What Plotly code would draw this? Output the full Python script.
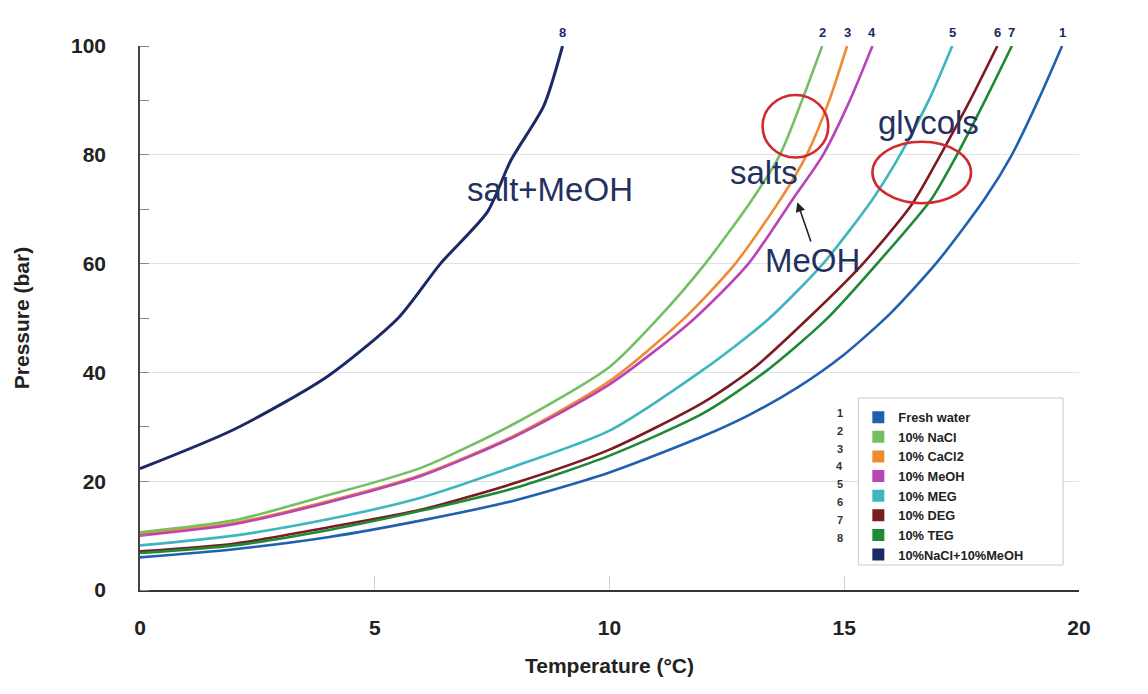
import plotly.graph_objects as go

# ---------------- data ----------------
series_ids = ["1", "2", "3", "4", "5", "6", "7", "8"]
series_names = ["Fresh water", "10% NaCl", "10% CaCl2", "10% MeOH",
                "10% MEG", "10% DEG", "10% TEG", "10%NaCl+10%MeOH"]
series_colors = ["#2160b0", "#72c063", "#f08a30", "#b844b8",
                 "#3db6bf", "#7d1a22", "#1f8a35", "#1c2966"]

t_fresh = [0, 2, 4, 6, 8, 10, 12, 13, 14, 15, 16, 17, 18, 18.57, 19.13, 19.64]
p_fresh = [6.0, 7.5, 9.7, 12.8, 16.5, 21.6, 28.3, 32.3, 37.2, 43.3, 51, 60.5, 72, 80, 90, 100]

t_nacl = [0, 2, 4, 6, 8, 10, 11.0, 12.04, 13.04, 13.63, 14.1, 14.53]
p_nacl = [10.6, 12.8, 17.4, 22.5, 30.7, 41.0, 49.6, 60, 71.8, 80, 90, 100]

t_cacl2 = [0, 2, 4, 6, 8, 10, 11.55, 12.68, 13.64, 14.2, 14.68, 15.06]
p_cacl2 = [10.2, 12.3, 16.3, 21.2, 28.5, 38.4, 49.6, 60, 71.8, 80, 90, 100]

t_meoh = [0, 2, 4, 6, 8, 10, 11.77, 12.96, 13.9, 14.55, 15.12, 15.6]
p_meoh = [10.0, 12.1, 16.1, 21.0, 28.3, 37.8, 49.6, 60, 71.8, 80, 90, 100]

t_meg = [0, 2, 4, 6, 8, 10, 12, 13.36, 14.55, 15.6, 16.19, 16.8, 17.3]
p_meg = [8.2, 10.0, 13.0, 17.0, 22.8, 29.3, 40.5, 49.6, 60, 71.8, 80, 90, 100]

t_deg = [0, 2, 4, 6, 8, 10, 12, 13.1, 14.3, 15.4, 16.45, 17.05, 17.68, 18.26]
p_deg = [7.1, 8.5, 11.5, 14.8, 19.7, 25.8, 34.5, 41, 50.5, 60, 71, 80, 90, 100]

t_teg = [0, 2, 4, 6, 8, 10, 12, 13.3, 14.6, 15.7, 16.85, 17.4, 18.0, 18.57]
p_teg = [6.8, 8.2, 11.0, 14.6, 18.8, 24.7, 32.5, 40, 49.6, 60, 71.8, 80, 90, 100]

t_mix = [0, 2, 4, 5.5, 6.4, 7.4, 7.9, 8.6, 9.0]
p_mix = [22.3, 29.5, 39.3, 50, 60, 69.5, 79, 89, 100]

series_t = [t_fresh, t_nacl, t_cacl2, t_meoh, t_meg, t_deg, t_teg, t_mix]
series_p = [p_fresh, p_nacl, p_cacl2, p_meoh, p_meg, p_deg, p_teg, p_mix]

x_ticks = [0, 5, 10, 15, 20]
y_ticks = [0, 20, 40, 60, 80, 100]

# text annotations (label, T, P)
notes = [("salt+MeOH", 8.74, 73.7), ("salts", 13.28, 76.8),
         ("glycols", 16.8, 86.0), ("MeOH", 14.32, 60.5)]
# arrow: head (T,P), tail (T,P)
arrow_head = (14.0, 71.3)
arrow_tail = (14.3, 63.8)
# red ellipses: (T0, T1, P0, P1)
ellipses = [(13.26, 14.66, 79.5, 91.0), (15.6, 17.7, 71.1, 82.4)]

# ---------------- figure ----------------
FONT = "Liberation Sans, Arial, sans-serif"
fig = go.Figure()

for sid, name, col, t, p in zip(series_ids, series_names, series_colors, series_t, series_p):
    fig.add_trace(go.Scatter(x=t, y=p, mode="lines", name=name,
                             line=dict(color=col, width=2.6 if sid != "8" else 3,
                                       shape="spline", smoothing=0.7),
                             showlegend=False, hoverinfo="x+y+name"))
# legend entries shown as coloured squares
for name, col in zip(series_names, series_colors):
    fig.add_trace(go.Scatter(x=[None], y=[None], mode="markers", name="<b>%s</b>" % name,
                             marker=dict(symbol="square", size=12, color=col),
                             showlegend=True))

# series number labels at top of each curve
for sid, t, p in zip(series_ids, series_t, series_p):
    fig.add_annotation(x=t[-1], y=p[-1], text="<b>%s</b>" % sid, showarrow=False,
                       yshift=14, font=dict(family=FONT, size=13, color="#1c2a5c"))

# numbers beside legend
for i, sid in enumerate(series_ids):
    fig.add_annotation(x=0.751, y=0.311 - i * 0.0328, xref="paper", yref="paper",
                       text="<b>%s</b>" % sid, showarrow=False,
                       font=dict(family=FONT, size=11, color="#333"))

for txt, tx, py in notes:
    fig.add_annotation(x=tx, y=py, text=txt, showarrow=False,
                       font=dict(family=FONT, size=33, color="#24305e"))

fig.add_annotation(x=arrow_head[0], y=arrow_head[1], ax=arrow_tail[0], ay=arrow_tail[1],
                   axref="x", ayref="y", text="", showarrow=True,
                   arrowhead=2, arrowsize=1.2, arrowwidth=1.6, arrowcolor="#222")

for x0, x1, y0, y1 in ellipses:
    fig.add_shape(type="circle", x0=x0, x1=x1, y0=y0, y1=y1, xref="x", yref="y",
                  line=dict(color="#d02a30", width=2.6))

# legend frame
fig.add_shape(type="rect", xref="paper", yref="paper", x0=0.765, x1=0.983, y0=0.046, y1=0.353,
              line=dict(color="#c8c8c8", width=1), fillcolor="white", layer="above")

fig.update_layout(
    width=1132, height=678,
    margin=dict(l=131, r=61, t=38, b=93),
    paper_bgcolor="white", plot_bgcolor="white",
    font=dict(family=FONT, color="#222"),
    legend=dict(x=0.765, y=0.345, xanchor="left", yanchor="top",
                bgcolor="rgba(0,0,0,0)", borderwidth=0,
                font=dict(family=FONT, size=12.8, color="#222"),
                itemsizing="constant"),
)
fig.update_xaxes(range=[0, 20], tickvals=x_ticks, ticktext=["<b>%d</b>" % v for v in x_ticks],
                 showgrid=False, zeroline=False,
                 showline=True, linecolor="#333", linewidth=2,
                 ticks="inside", ticklen=14, tickcolor="#d0d0d0", tickwidth=1,
                 ticklabelstandoff=18,
                 tickfont=dict(family=FONT, size=21, color="#222"),
                 title=dict(text="<b>Temperature (°C)</b>", standoff=20,
                            font=dict(family=FONT, size=21, color="#222")))
fig.update_yaxes(range=[0, 100], tickvals=y_ticks, ticktext=["<b>%d</b>" % v for v in y_ticks],
                 showgrid=True, gridcolor="#e2e2e2", gridwidth=1, zeroline=False,
                 showline=True, linecolor="#444", linewidth=1.5,
                 ticks="", ticklabelstandoff=28,
                 minor=dict(dtick=10, ticks="inside", ticklen=9, tickcolor="#888", showgrid=False),
                 tickfont=dict(family=FONT, size=21, color="#222"),
                 title=dict(text="<b>Pressure (bar)</b>", standoff=36,
                            font=dict(family=FONT, size=21, color="#222")))

fig.write_html("out.html")
